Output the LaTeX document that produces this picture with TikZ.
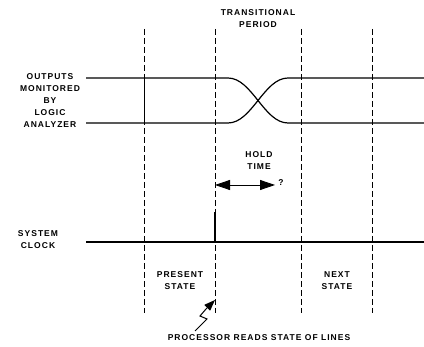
\documentclass[tikz,border=0pt]{standalone}
\usepackage{fontspec}
\setmainfont{Liberation Sans}[LetterSpace=12]
\usetikzlibrary{arrows.meta}
\begin{document}
\begin{tikzpicture}[x=1pt,y=-1pt,
  lbl/.style={font=\fontsize{8.5}{12}\selectfont\bfseries, align=center, inner sep=0pt},
  wave/.style={line width=1.2pt},
  guide/.style={line width=0.8pt, dash pattern=on 6pt off 3pt},
  thin/.style={line width=0.8pt},
  holdarrow/.style={line width=0.8pt,{Triangle[length=15pt,width=10pt]}-{Triangle[length=15pt,width=10pt]}}]
\useasboundingbox (0,0) rectangle (424,347);
\fill[white] (0,0) rectangle (424,347);
% guide lines
\foreach \n/\x in {g1/144,g2/215,g3/301,g4/372}{
  \coordinate (\n t) at (\x,29);
  \coordinate (\n b) at (\x,313);
  \draw[guide] (\n t) -- (\n b);
}
\coordinate (s1t) at (144,78);
\coordinate (s1b) at (144,123);
\draw[thin] (s1t) -- (s1b);
% output waveforms
\coordinate (hiL) at (86,78);
\coordinate (hiS) at (228,78);
\coordinate (loE) at (288,123);
\coordinate (loR) at (424,123);
\coordinate (loL) at (86,123);
\coordinate (loS) at (228,123);
\coordinate (hiE) at (288,78);
\coordinate (hiR) at (424,78);
\draw[wave] (hiL) -- (hiS) .. controls (252,78) and (264,123) .. (loE) -- (loR);
\draw[wave] (loL) -- (loS) .. controls (252,123) and (264,78) .. (hiE) -- (hiR);
% clock
\coordinate (clkL) at (86,242);
\coordinate (clkR) at (424,242);
\coordinate (pb) at (215,242);
\coordinate (pt) at (215,212);
\draw[wave] (clkL) -- (clkR);
\draw[wave] (pb) -- (pt);
% hold time arrow
\coordinate (ha) at (215,185);
\coordinate (hb) at (275,185);
\draw[holdarrow] (ha) -- (hb);
\node[lbl] (q) at (281,183) {?};
% zigzag arrow
\coordinate (z0) at (195,331);
\coordinate (z1) at (207,319);
\coordinate (z2) at (200,316);
\coordinate (z3) at (206,309);
\coordinate (ztip) at (215,300);
\draw[line width=1pt,-{Triangle[length=11pt,width=8pt]}] (z0) -- (z1) -- (z2) -- (z3) -- (ztip);
% labels
\node[lbl] (trans) at (258,19) {TRANSITIONAL\\PERIOD};
\node[lbl] (outs) at (50,101) {OUTPUTS\\MONITORED\\BY\\LOGIC\\ANALYZER};
\node[lbl] (hold) at (259,161) {HOLD\\TIME};
\node[lbl] (clk) at (38,239.5) {SYSTEM\\CLOCK};
\node[lbl] (pres) at (180,281) {PRESENT\\STATE};
\node[lbl] (next) at (337,281) {NEXT\\STATE};
\node[lbl] (proc) at (259,338) {PROCESSOR READS STATE OF LINES};
\end{tikzpicture}
\end{document}
